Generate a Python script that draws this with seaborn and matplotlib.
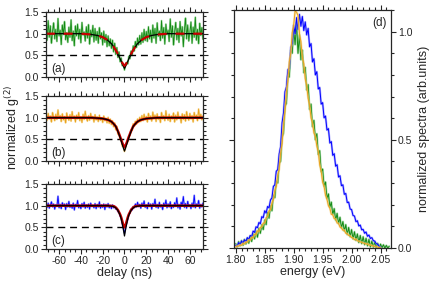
import numpy as np
import matplotlib
matplotlib.use("Agg")
import matplotlib.pyplot as plt
from matplotlib.ticker import MultipleLocator, FormatStrFormatter
import seaborn as sns

# g2 delay grid (ns)
delay = np.arange(-72, 73, 1)

g2_a = [1.12, 0.85, 1.30, 0.92, 1.18, 0.78, 1.05, 1.25, 0.88, 1.10, 0.82, 1.35, 0.95, 1.08, 0.75,
        1.20, 0.98, 1.28, 0.86, 1.02, 0.80, 1.15, 0.92, 1.32, 0.84, 1.06, 0.72, 1.18, 0.95, 1.22,
        0.88, 1.10, 0.79, 1.26, 0.97, 1.04, 0.83, 1.16, 0.90, 1.21, 0.76, 1.08, 0.93, 1.19, 0.81,
        1.12, 0.85, 1.05, 0.78, 1.14, 0.88, 1.02, 0.74, 1.06, 0.80, 0.98, 0.70, 0.95, 0.72, 0.88,
        0.66, 0.85, 0.58, 0.78, 0.52, 0.68, 0.45, 0.58, 0.35, 0.44, 0.26, 0.30, 0.16, 0.28, 0.34,
        0.30, 0.48, 0.42, 0.60, 0.50, 0.72, 0.60, 0.82, 0.68, 0.90, 0.74, 0.96, 0.76, 1.02, 0.80,
        1.10, 0.84, 1.05, 0.82, 1.16, 0.88, 1.08, 0.80, 1.20, 0.90, 1.12, 0.78, 1.25, 0.94, 1.06,
        0.84, 1.30, 0.90, 1.14, 0.76, 1.22, 0.98, 1.08, 0.82, 1.34, 0.92, 1.18, 0.74, 1.04, 1.26,
        0.86, 1.12, 0.80, 1.28, 0.95, 1.16, 0.70, 1.09, 1.36, 0.88, 1.20, 0.83, 1.03, 1.27, 0.78,
        1.15, 0.92, 1.38, 0.85, 1.10, 0.77, 1.24, 0.96, 1.14, 0.87]

g2_b = [1.06, 0.94, 1.10, 0.97, 1.04, 0.90, 1.12, 1.01, 0.93, 1.08, 0.96, 1.18, 0.99, 1.05, 0.91,
        1.09, 0.95, 1.03, 0.88, 1.11, 1.00, 0.94, 1.07, 0.92, 1.14, 0.98, 1.04, 0.90, 1.06, 0.97,
        1.12, 0.93, 1.02, 0.89, 1.08, 0.96, 1.15, 0.99, 0.92, 1.05, 0.94, 1.10, 0.97, 1.03, 0.90,
        1.07, 0.95, 1.02, 0.91, 1.06, 0.94, 1.00, 0.89, 1.04, 0.93, 0.99, 0.88, 1.01, 0.87, 0.97,
        0.84, 0.93, 0.79, 0.88, 0.72, 0.80, 0.62, 0.66, 0.50, 0.49, 0.34, 0.33, 0.22, 0.32, 0.41,
        0.44, 0.58, 0.59, 0.72, 0.71, 0.86, 0.80, 0.92, 0.85, 0.97, 0.89, 1.01, 0.91, 1.05, 0.93,
        1.08, 0.95, 1.03, 0.90, 1.10, 0.97, 1.04, 0.92, 1.13, 0.98, 1.06, 0.91, 1.09, 0.96, 1.02,
        0.89, 1.12, 0.97, 1.05, 0.93, 1.16, 1.00, 0.94, 1.08, 0.91, 1.04, 0.97, 1.11, 0.90, 1.06,
        0.95, 1.13, 0.98, 1.03, 0.88, 1.09, 0.96, 1.07, 0.92, 1.14, 1.00, 0.94, 1.10, 0.97, 1.05,
        0.90, 1.12, 0.99, 1.06, 0.93, 1.20, 0.98, 1.08, 0.95, 1.04]

g2_c = [1.03, 0.96, 1.06, 0.94, 1.01, 1.09, 0.97, 1.04, 0.92, 1.02, 0.98, 1.22, 0.95, 1.03, 0.93,
        1.07, 0.99, 1.04, 0.91, 1.05, 0.97, 1.10, 0.96, 1.02, 0.94, 1.06, 0.90, 1.03, 0.98, 1.12,
        0.95, 1.01, 0.93, 1.05, 0.97, 1.08, 0.94, 1.02, 0.96, 1.04, 0.92, 1.06, 0.98, 1.01, 0.95,
        1.05, 0.93, 1.03, 0.97, 1.09, 0.94, 1.02, 0.96, 1.04, 0.91, 1.03, 0.97, 1.05, 0.95, 1.01,
        0.93, 1.02, 0.95, 0.99, 0.92, 0.94, 0.86, 0.86, 0.76, 0.72, 0.58, 0.48, 0.36, 0.50, 0.60,
        0.68, 0.80, 0.83, 0.92, 0.90, 0.98, 0.95, 1.04, 0.97, 1.08, 0.98, 1.03, 0.94, 1.06, 0.99,
        1.11, 0.96, 1.02, 0.93, 1.07, 0.98, 1.04, 0.92, 1.05, 1.00, 1.15, 0.96, 1.03, 0.94, 1.08,
        0.97, 1.02, 0.91, 1.06, 0.99, 1.13, 0.95, 1.04, 0.97, 1.09, 0.93, 1.01, 0.96, 1.07, 0.98,
        1.18, 0.95, 1.03, 0.92, 1.08, 1.00, 1.21, 0.96, 1.05, 0.94, 1.10, 0.98, 1.02, 0.93, 1.06,
        0.97, 1.24, 0.95, 1.04, 0.99, 1.12, 0.94, 1.03, 0.97, 1.06]

# fitted curves
fit_a_t = [-72, -40, -30, -25, -20, -16, -12, -10, -8, -6, -4, -2, -1, 0,
           1, 2, 4, 6, 8, 10, 12, 16, 20, 25, 30, 40, 72]
fit_a_black = [1.0, 1.0, 0.98, 0.96, 0.92, 0.86, 0.77, 0.70, 0.62, 0.52, 0.42, 0.30, 0.25, 0.20,
               0.25, 0.30, 0.42, 0.52, 0.62, 0.70, 0.77, 0.86, 0.92, 0.96, 0.98, 1.0, 1.0]
fit_a_red = [1.0, 1.0, 0.98, 0.96, 0.92, 0.86, 0.77, 0.70, 0.62, 0.53, 0.44, 0.33, 0.29, 0.26,
             0.29, 0.33, 0.44, 0.53, 0.62, 0.70, 0.77, 0.86, 0.92, 0.96, 0.98, 1.0, 1.0]

fit_b_t = [-72, -30, -20, -15, -12, -10, -8, -6, -4, -3, -2, -1, 0,
           1, 2, 3, 4, 6, 8, 10, 12, 15, 20, 30, 72]
fit_b_black = [1.0, 1.0, 0.98, 0.95, 0.91, 0.86, 0.80, 0.68, 0.54, 0.46, 0.38, 0.30, 0.23,
               0.30, 0.38, 0.46, 0.54, 0.68, 0.80, 0.86, 0.91, 0.95, 0.98, 1.0, 1.0]
fit_b_red = [1.0, 1.0, 0.98, 0.95, 0.91, 0.86, 0.80, 0.69, 0.56, 0.49, 0.42, 0.36, 0.32,
             0.36, 0.42, 0.49, 0.56, 0.69, 0.80, 0.86, 0.91, 0.95, 0.98, 1.0, 1.0]

fit_c_t = [-72, -15, -10, -8, -6, -4, -3, -2, -1, 0, 1, 2, 3, 4, 6, 8, 10, 15, 72]
fit_c_black = [1.0, 1.0, 0.98, 0.95, 0.89, 0.78, 0.70, 0.58, 0.45, 0.30,
               0.45, 0.58, 0.70, 0.78, 0.89, 0.95, 0.98, 1.0, 1.0]
fit_c_red = [1.0, 1.0, 0.99, 0.96, 0.90, 0.80, 0.73, 0.64, 0.55, 0.50,
             0.55, 0.64, 0.73, 0.80, 0.90, 0.96, 0.99, 1.0, 1.0]

half_level = 0.5

# spectra, energy grid 1.800 .. 2.065 eV
energy = np.linspace(1.800, 2.065, 107)
nan = np.nan

spec_blue = [0.012, 0.008, 0.025, 0.015, 0.032, 0.022, 0.038, 0.030, 0.048, 0.040,
             0.058, 0.052, 0.078, 0.072, 0.098, 0.094, 0.118, 0.112, 0.145, 0.140,
             0.172, 0.162, 0.192, 0.186, 0.222, 0.232, 0.285, 0.292, 0.355, 0.362,
             0.435, 0.470, 0.578, 0.625, 0.722, 0.745, 0.825, 0.830, 0.928, 0.945,
             1.030, 0.990, 1.065, 1.010, 1.080, 1.025, 1.070, 1.005, 1.045, 0.985,
             1.015, 0.930, 0.945, 0.860, 0.875, 0.800, 0.815, 0.735, 0.742, 0.665,
             0.672, 0.602, 0.610, 0.545, 0.552, 0.485, 0.492, 0.428, 0.436, 0.378,
             0.385, 0.328, 0.334, 0.288, 0.292, 0.248, 0.252, 0.210, 0.212, 0.180,
             0.178, 0.150, 0.148, 0.122, 0.126, 0.102, 0.106, 0.084, 0.086, 0.068,
             0.074, 0.054, 0.060, 0.044, 0.048, 0.034, 0.032, 0.020, 0.018, 0.008,
             0.004, nan, nan, nan, nan, nan, nan]

spec_orange = [0.004, 0.010, 0.008, 0.015, 0.012, 0.022, 0.018, 0.028, 0.026, 0.038,
               0.036, 0.050, 0.046, 0.064, 0.062, 0.080, 0.076, 0.095, 0.098, 0.115,
               0.116, 0.140, 0.146, 0.172, 0.176, 0.208, 0.224, 0.268, 0.284, 0.338,
               0.362, 0.440, 0.482, 0.572, 0.630, 0.722, 0.770, 0.862, 0.900, 0.995,
               1.030, 1.095, 1.090, 1.075, 0.990, 0.955, 0.880, 0.852, 0.782, 0.750,
               0.692, 0.660, 0.602, 0.578, 0.532, 0.516, 0.472, 0.446, 0.384, 0.356,
               0.304, 0.286, 0.244, 0.226, 0.196, 0.184, 0.156, 0.154, 0.136, 0.134,
               0.116, 0.114, 0.097, 0.094, 0.082, 0.083, 0.068, 0.067, 0.058, 0.057,
               0.048, 0.047, 0.038, 0.042, 0.033, 0.032, 0.028, 0.027, 0.023, 0.022,
               0.018, 0.020, 0.013, 0.015, 0.010, 0.011, 0.006, 0.007, 0.004, 0.003,
               0.001, nan, nan, nan, nan, nan, nan]

spec_green = [0.020, 0.005, 0.030, 0.010, 0.035, 0.012, 0.040, 0.018, 0.045, 0.022,
              0.055, 0.030, 0.065, 0.042, 0.078, 0.050, 0.092, 0.068, 0.108, 0.085,
              0.130, 0.108, 0.165, 0.138, 0.195, 0.172, 0.245, 0.232, 0.310, 0.300,
              0.392, 0.400, 0.512, 0.530, 0.655, 0.668, 0.795, 0.790, 0.915, 0.900,
              1.010, 0.940, 1.040, 0.900, 0.985, 0.870, 0.915, 0.810, 0.835, 0.730,
              0.755, 0.640, 0.665, 0.560, 0.590, 0.500, 0.528, 0.432, 0.450, 0.352,
              0.365, 0.285, 0.305, 0.228, 0.250, 0.188, 0.212, 0.155, 0.182, 0.128,
              0.160, 0.112, 0.142, 0.092, 0.122, 0.078, 0.108, 0.062, 0.095, 0.052,
              0.085, 0.042, 0.075, 0.035, 0.065, 0.025, 0.058, 0.020, 0.052, 0.015,
              0.045, 0.010, 0.040, 0.005, 0.032, 0.004, 0.028, 0.002, 0.022, 0.000,
              0.018, 0.002, 0.015, 0.000, 0.012, 0.000, 0.008]

GREEN = "#138a13"
GREEN_LIGHT = "#7fc97f"
ORANGE = "#e9a21c"
ORANGE_LIGHT = "#f6cf7a"
BLUE = "#0000ff"
BLUE_LIGHT = "#8080ff"
RED = "#c80000"

sns.set_style("ticks")
plt.rcParams['font.family'] = ['Liberation Sans', 'DejaVu Sans']
plt.rcParams['axes.unicode_minus'] = False
plt.rcParams['axes.linewidth'] = 0.9

fig = plt.figure(figsize=(4.36, 2.90), dpi=100)

ax_a = fig.add_axes([0.1055, 0.7345, 0.360, 0.224])
ax_b = fig.add_axes([0.1055, 0.4448, 0.360, 0.224])
ax_c = fig.add_axes([0.1055, 0.1414, 0.360, 0.224])
ax_d = fig.add_axes([0.5367, 0.1448, 0.360, 0.8207])


def g2_panel(ax, data, col, col_light, t_fit, black, red, label, red_dashed=False):
    sns.lineplot(x=delay, y=data, ax=ax, color=col_light, lw=1.4, alpha=0.7,
                 estimator=None, sort=False, legend=False)
    sns.lineplot(x=delay, y=data, ax=ax, color=col, lw=0.6,
                 estimator=None, sort=False, legend=False)
    ax.axhline(half_level, color="black", lw=1.0, ls=(0, (5, 3.5)))
    if red_dashed:
        sns.lineplot(x=t_fit, y=black, ax=ax, color="black", lw=0.9,
                     estimator=None, sort=False, legend=False)
        sns.lineplot(x=t_fit, y=red, ax=ax, color=RED, lw=1.6, linestyle=(0, (4, 4)),
                     estimator=None, sort=False, legend=False)
    else:
        sns.lineplot(x=t_fit, y=red, ax=ax, color=RED, lw=1.8,
                     estimator=None, sort=False, legend=False)
        sns.lineplot(x=t_fit, y=black, ax=ax, color="black", lw=0.9,
                     estimator=None, sort=False, legend=False)
    ax.set_xlim(-72, 72)
    ax.set_ylim(0, 1.5)
    ax.xaxis.set_major_locator(MultipleLocator(20))
    ax.xaxis.set_minor_locator(MultipleLocator(5))
    ax.yaxis.set_major_locator(MultipleLocator(0.5))
    ax.yaxis.set_minor_locator(MultipleLocator(0.1))
    ax.yaxis.set_major_formatter(FormatStrFormatter('%.1f'))
    ax.tick_params(which='both', direction='out', top=True, right=True,
                   labelsize=7.5, width=0.8, pad=1.5)
    ax.tick_params(which='major', length=3.5)
    ax.tick_params(which='minor', length=2)
    ax.set_xlabel("")
    ax.set_ylabel("")
    ax.text(0.035, 0.12, label, transform=ax.transAxes, fontsize=8.5,
            ha='left', va='center')


g2_panel(ax_a, g2_a, GREEN, GREEN_LIGHT, fit_a_t, fit_a_black, fit_a_red, "(a)", red_dashed=True)
g2_panel(ax_b, g2_b, ORANGE, ORANGE_LIGHT, fit_b_t, fit_b_black, fit_b_red, "(b)")
g2_panel(ax_c, g2_c, BLUE, BLUE_LIGHT, fit_c_t, fit_c_black, fit_c_red, "(c)")

for ax in (ax_a, ax_b):
    ax.tick_params(labelbottom=False)

ax_c.set_xlabel("delay (ns)", fontsize=9, labelpad=1)
fig.text(0.028, 0.56, "normalized g$^{(2)}$", rotation=90, fontsize=9,
         ha='center', va='center')

# spectra
for spec, col, col_light in ((spec_green, GREEN, GREEN_LIGHT),
                             (spec_blue, BLUE, BLUE_LIGHT),
                             (spec_orange, ORANGE, ORANGE_LIGHT)):
    sns.lineplot(x=energy, y=spec, ax=ax_d, color=col_light, lw=1.6, alpha=0.6,
                 estimator=None, sort=False, legend=False)
    sns.lineplot(x=energy, y=spec, ax=ax_d, color=col, lw=0.7,
                 estimator=None, sort=False, legend=False)

ax_d.set_xlim(1.797, 2.068)
ax_d.set_ylim(0, 1.1)
ax_d.xaxis.set_major_locator(MultipleLocator(0.05))
ax_d.xaxis.set_minor_locator(MultipleLocator(0.01))
ax_d.xaxis.set_major_formatter(FormatStrFormatter('%.2f'))
ax_d.yaxis.set_major_locator(MultipleLocator(0.5))
ax_d.yaxis.set_minor_locator(MultipleLocator(0.1))
ax_d.yaxis.set_major_formatter(FormatStrFormatter('%.1f'))
ax_d.tick_params(which='both', direction='out', top=True, right=True, left=True,
                 labelleft=False, labelright=True, labelsize=7.5, width=0.8, pad=1.5)
ax_d.tick_params(which='major', length=3.5)
ax_d.tick_params(which='minor', length=2)
ax_d.set_xlabel("energy (eV)", fontsize=9, labelpad=1)
ax_d.set_ylabel("normalized spectra (arb.units)", fontsize=9, labelpad=4)
ax_d.yaxis.set_label_position("right")
ax_d.text(0.975, 0.945, "(d)", transform=ax_d.transAxes, fontsize=8.5,
          ha='right', va='center')

fig.savefig("out.png", dpi=100)
